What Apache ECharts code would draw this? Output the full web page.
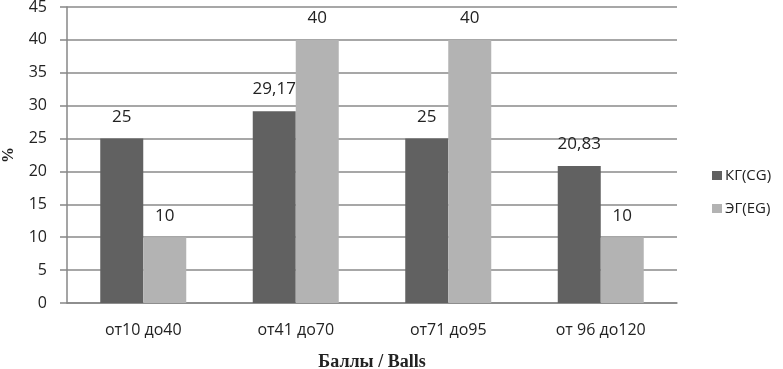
<!DOCTYPE html>
<html>
<head>
<meta charset="utf-8">
<script src="https://cdn.jsdelivr.net/npm/echarts@6/dist/echarts.min.js"></script>
<style>
  html, body { margin: 0; padding: 0; background: #fff; }
  #main { width: 783px; height: 369px; }
</style>
</head>
<body>
<div id="main"></div>
<script>
const categories = ['от10 до40', 'от41 до70', 'от71 до95', 'от 96 до120'];
const cgValues = [25, 29.17, 25, 20.83];
const egValues = [10, 40, 40, 10];
const seriesNames = ['КГ(CG)', 'ЭГ(EG)'];

const font = '"Open Sans", "Noto Sans", sans-serif';
const fmt = p => String(p.value).replace('.', ',');

const chart = echarts.init(document.getElementById('main'));
chart.setOption({
  animation: false,
  grid: { left: 67, right: 106, top: 7, bottom: 66, outerBoundsMode: 'none' },
  legend: {
    orient: 'vertical',
    left: 707,
    top: 163,
    itemWidth: 10,
    itemHeight: 9,
    itemGap: 18,
    icon: 'rect',
    textStyle: { fontFamily: font, fontSize: 15, color: '#222', padding: [0, 0, 0, -2] },
    data: seriesNames
  },
  xAxis: {
    type: 'category',
    data: categories,
    name: 'Баллы / Balls',
    nameLocation: 'middle',
    nameGap: 50,
    nameTextStyle: { fontFamily: 'Liberation Serif, serif', fontWeight: 'bold', fontSize: 18, color: '#222' },
    axisLine: { lineStyle: { color: '#878787', width: 1.5 } },
    axisTick: { show: false },
    axisLabel: { fontFamily: font, fontSize: 16, color: '#222', margin: 19 }
  },
  yAxis: {
    type: 'value',
    min: 0,
    max: 45,
    interval: 5,
    name: '%',
    nameLocation: 'middle',
    nameGap: 50,
    nameRotate: 90,
    nameTextStyle: { fontFamily: 'Liberation Serif, serif', fontWeight: 'bold', fontSize: 16, color: '#222' },
    axisLine: { show: true, lineStyle: { color: '#878787', width: 1.5 } },
    axisTick: { show: true, length: 7, lineStyle: { color: '#878787', width: 1.5 } },
    splitLine: { lineStyle: { color: '#8a8a8a', width: 1.5 } },
    axisLabel: { fontFamily: font, fontSize: 16, color: '#222', margin: 20 }
  },
  series: [
    {
      name: seriesNames[0],
      type: 'bar',
      data: cgValues,
      barWidth: 43,
      barGap: '0%',
      itemStyle: { color: '#616161' },
      label: { show: true, position: 'top', distance: 13, fontFamily: font, fontSize: 17, color: '#222', formatter: fmt }
    },
    {
      name: seriesNames[1],
      type: 'bar',
      data: egValues,
      barWidth: 43,
      barGap: '0%',
      itemStyle: { color: '#b3b3b3' },
      label: { show: true, position: 'top', distance: 13, fontFamily: font, fontSize: 17, color: '#222', formatter: fmt }
    }
  ]
});
</script>
</body>
</html>
